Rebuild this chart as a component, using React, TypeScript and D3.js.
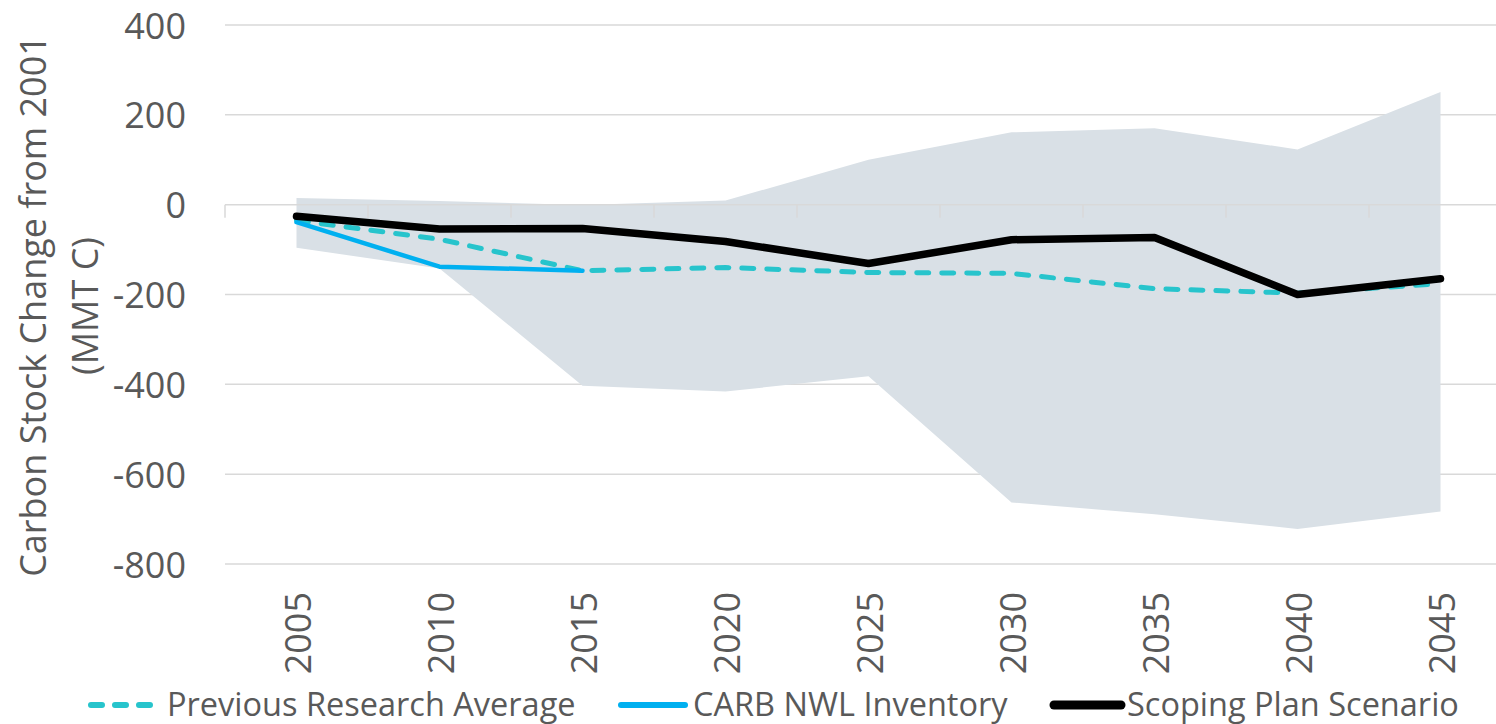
import { useEffect, useRef } from 'react';
import { select, scaleBand, scaleLinear, line, area } from 'd3';

const years = ['2005', '2010', '2015', '2020', '2025', '2030', '2035', '2040', '2045'];
const previousResearch = [-35, -77, -147, -140, -151, -153, -187, -197, -176];
const carbInventory: (number | null)[] = [-39, -138, -147, null, null, null, null, null, null];
const scopingPlan = [-26, -54, -53, -82, -131, -78, -73, -200, -165];
const rangeUpper = [15, 8, -1, 9, 100, 161, 170, 123, 251];
const rangeLower = [-96, -142, -403, -416, -382, -663, -689, -722, -683];
const yTicks = [400, 200, 0, -200, -400, -600, -800];

const TEXT = '#595959';
const FONT = '"Open Sans", "DejaVu Sans", sans-serif';

export default function App() {
  const svgRef = useRef<SVGSVGElement>(null);

  useEffect(() => {
    if (!svgRef.current) return;
    const svg = select(svgRef.current);
    svg.selectAll('*').remove();

    const width = 1496;
    const height = 724;
    const left = 225;
    const right = left + 9 * 143;

    const x = scaleBand<string>().domain(years).range([left, right]).padding(0);
    const cx = (d: string) => (x(d) || 0) + x.bandwidth() / 2;
    const y = scaleLinear().domain([-800, 400]).range([564, 25]);

    svg.attr('width', width).attr('height', height).style('font-family', FONT);

    // gridlines (not the zero line)
    svg.append('g')
      .selectAll('line')
      .data(yTicks.filter((t) => t !== 0))
      .enter()
      .append('line')
      .attr('x1', left)
      .attr('x2', width)
      .attr('y1', (d) => y(d))
      .attr('y2', (d) => y(d))
      .attr('stroke', '#d9d9d9')
      .attr('stroke-width', 1.5);

    // range band
    const band = area<number>()
      .x((_, i) => cx(years[i]))
      .y0((_, i) => y(rangeLower[i]))
      .y1((d) => y(d));
    svg.append('path').datum(rangeUpper).attr('d', band).attr('fill', '#d9e0e6');

    // zero axis with ticks
    const axis = svg.append('g').attr('stroke', '#d9d9d9').attr('stroke-width', 1.5);
    axis.append('line').attr('x1', left).attr('x2', width).attr('y1', y(0)).attr('y2', y(0));
    axis.selectAll('.tick')
      .data(years)
      .enter()
      .append('line')
      .attr('x1', (d) => x(d) || 0)
      .attr('x2', (d) => x(d) || 0)
      .attr('y1', y(0))
      .attr('y2', y(0) + 13);

    // y labels
    svg.append('g')
      .selectAll('text')
      .data(yTicks)
      .enter()
      .append('text')
      .attr('x', 186)
      .attr('y', (d) => y(d))
      .attr('text-anchor', 'end')
      .attr('dominant-baseline', 'central')
      .attr('fill', TEXT)
      .style('font-size', '36px')
      .text((d) => String(d));

    // x labels
    svg.append('g')
      .selectAll('text')
      .data(years)
      .enter()
      .append('text')
      .attr('transform', (d) => `translate(${cx(d) + 1},592) rotate(-90)`)
      .attr('text-anchor', 'end')
      .attr('dominant-baseline', 'central')
      .attr('fill', TEXT)
      .style('font-size', '36px')
      .text((d) => d);

    // axis title
    [['Carbon Stock Change from 2001', 46], ['(MMT C)', 98]].forEach(([t, bx]) => {
      svg.append('text')
        .attr('transform', `translate(${bx},306) rotate(-90)`)
        .attr('text-anchor', 'middle')
        .attr('fill', TEXT)
        .style('font-size', '36px')
        .text(t as string);
    });

    const mk = (vals: (number | null)[]) =>
      line<number | null>()
        .defined((d) => d !== null)
        .x((_, i) => cx(years[i]))
        .y((d) => y(d as number))(vals);

    svg.append('path')
      .attr('d', mk(previousResearch))
      .attr('fill', 'none')
      .attr('stroke', '#27c4cc')
      .attr('stroke-width', 5)
      .attr('stroke-dasharray', '12 13')
      .attr('stroke-linecap', 'round')
      .attr('stroke-linejoin', 'round');

    svg.append('path')
      .attr('d', mk(carbInventory))
      .attr('fill', 'none')
      .attr('stroke', '#00b0f0')
      .attr('stroke-width', 4.5)
      .attr('stroke-linecap', 'round')
      .attr('stroke-linejoin', 'round');

    svg.append('path')
      .attr('d', mk(scopingPlan))
      .attr('fill', 'none')
      .attr('stroke', '#000000')
      .attr('stroke-width', 7.5)
      .attr('stroke-linecap', 'round')
      .attr('stroke-linejoin', 'round');

    // legend
    const ly = 703;
    const legend = [
      { label: 'Previous Research Average', color: '#27c4cc', w: 6, dash: '11 13', x0: 91, x1: 152, tx: 167 },
      { label: 'CARB NWL Inventory', color: '#00b0f0', w: 6, dash: null, x0: 621, x1: 685, tx: 693 },
      { label: 'Scoping Plan Scenario', color: '#000000', w: 9, dash: null, x0: 1054, x1: 1121, tx: 1127 },
    ];
    legend.forEach((l) => {
      svg.append('line')
        .attr('x1', l.x0)
        .attr('x2', l.x1)
        .attr('y1', ly + 2)
        .attr('y2', ly + 2)
        .attr('stroke', l.color)
        .attr('stroke-width', l.w)
        .attr('stroke-linecap', 'round')
        .attr('stroke-dasharray', l.dash);
      svg.append('text')
        .attr('x', l.tx)
        .attr('y', ly)
        .attr('dominant-baseline', 'central')
        .attr('fill', TEXT)
        .style('font-size', '32.5px')
        .text(l.label);
    });
  }, []);

  return (
    <div style={{ position: 'absolute', left: 0, top: 0, width: 1496, height: 724, background: '#fff' }}>
      <svg ref={svgRef} style={{ display: 'block' }} />
    </div>
  );
}
